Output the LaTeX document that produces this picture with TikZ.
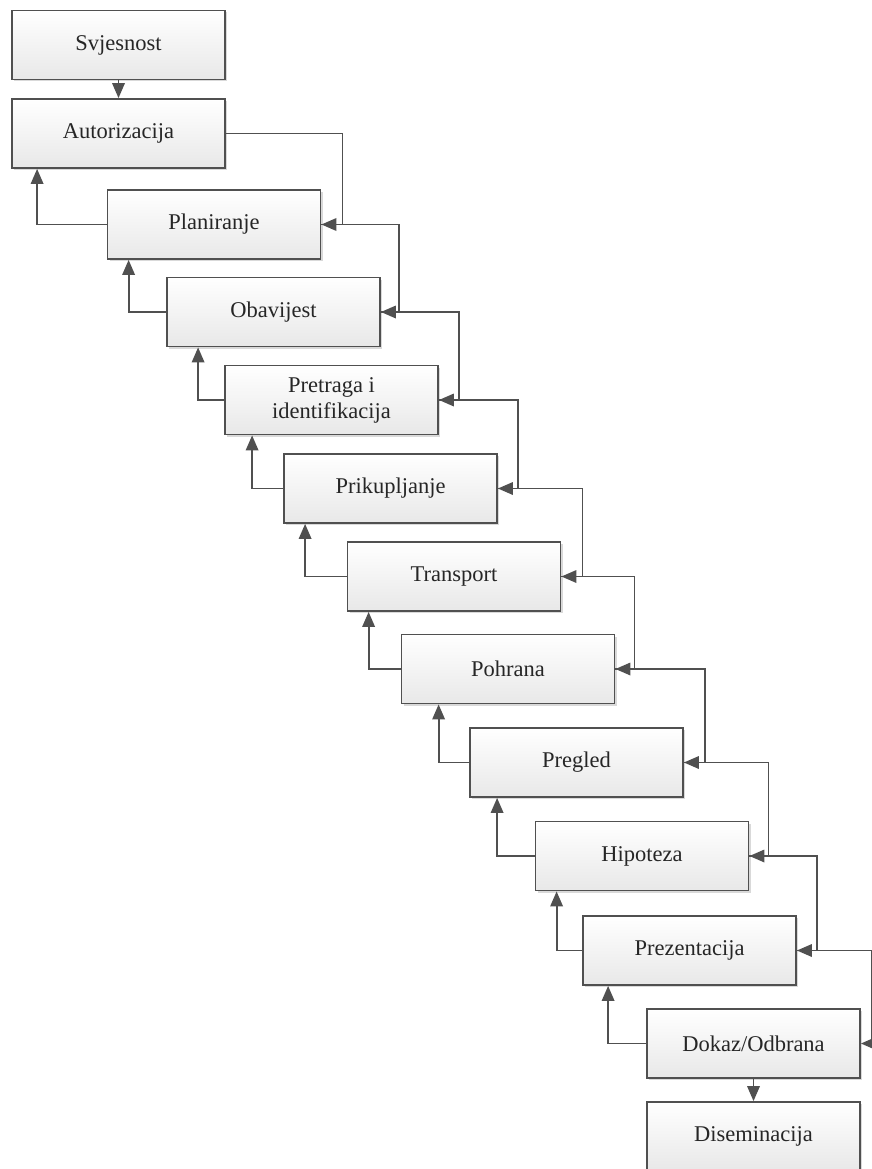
\documentclass[tikz,border=0pt]{standalone}
\usepackage{fontspec}
\setmainfont{Liberation Serif}
\usetikzlibrary{arrows.meta,calc,shadows}
\definecolor{edgec}{HTML}{505050}
\definecolor{boxlo}{HTML}{E8E8E8}
\begin{document}
\begin{tikzpicture}[x=1pt,y=-1pt,
  stagebox/.style={draw=edgec, line width=1.8pt, top color=white, bottom color=boxlo,
    minimum width=213pt, minimum height=69pt, inner sep=0pt, align=center,
    font=\fontsize{22.5}{26}\selectfont, text=black!85,
    drop shadow={shadow xshift=2pt, shadow yshift=-2pt, opacity=0.15, fill=black}},
  conn/.style={draw=edgec, line width=1.8pt, -{Triangle[length=15pt,width=12.5pt]}, fill=none}]
\useasboundingbox (0,0) rectangle (872,1169);
\fill[white] (0,0) rectangle (872,1169);
\node[stagebox] (sv) at (118.5,45) {Svjesnost};
\node[stagebox] (au) at (118.5,133.5) {Autorizacija};
\node[stagebox] (pl) at (214,224.5) {Planiranje};
\node[stagebox] (ob) at (273.5,312) {Obavijest};
\node[stagebox] (pr) at (331.5,400) {Pretraga i\\identifikacija};
\node[stagebox] (pk) at (390.5,488.5) {Prikupljanje};
\node[stagebox] (tr) at (454,576.5) {Transport};
\node[stagebox] (po) at (508,669) {Pohrana};
\node[stagebox] (pg) at (576.5,762.5) {Pregled};
\node[stagebox] (hi) at (642,856) {Hipoteza};
\node[stagebox] (pz) at (689.5,950.5) {Prezentacija};
\node[stagebox] (do) at (753.5,1043.5) {Dokaz/Odbrana};
\node[stagebox] (di) at (753.5,1136.5) {Diseminacija};
% vertical down arrows
\draw[conn] (sv.south) -- (au.north);
\draw[conn] (do.south) -- (di.north);
% right-side forward loops
\draw[conn] (au.east) -| ($(pl.east)+(21,0)$) -- (pl.east);
\draw[conn] (pl.east) -| ($(ob.east)+(18,0)$) -- (ob.east);
\draw[conn] (ob.east) -| ($(pr.east)+(20,0)$) -- (pr.east);
\draw[conn] (pr.east) -| ($(pk.east)+(20,0)$) -- (pk.east);
\draw[conn] (pk.east) -| ($(tr.east)+(21,0)$) -- (tr.east);
\draw[conn] (tr.east) -| ($(po.east)+(19,0)$) -- (po.east);
\draw[conn] (po.east) -| ($(pg.east)+(21,0)$) -- (pg.east);
\draw[conn] (pg.east) -| ($(hi.east)+(19,0)$) -- (hi.east);
\draw[conn] (hi.east) -| ($(pz.east)+(20,0)$) -- (pz.east);
\draw[conn] (pz.east) -| ($(do.east)+(10.5,0)$) -- (do.east);
% left-side back loops
\draw[conn] (pl.west) -| ($(au.south west)+(26,0)$);
\draw[conn] (ob.west) -| ($(pl.south west)+(22,0)$);
\draw[conn] (pr.west) -| ($(ob.south west)+(32,0)$);
\draw[conn] (pk.west) -| ($(pr.south west)+(28,0)$);
\draw[conn] (tr.west) -| ($(pk.south west)+(22,0)$);
\draw[conn] (po.west) -| ($(tr.south west)+(22,0)$);
\draw[conn] (pg.west) -| ($(po.south west)+(38,0)$);
\draw[conn] (hi.west) -| ($(pg.south west)+(28,0)$);
\draw[conn] (pz.west) -| ($(hi.south west)+(22,0)$);
\draw[conn] (do.west) -| ($(pz.south west)+(26,0)$);
\end{tikzpicture}
\end{document}
